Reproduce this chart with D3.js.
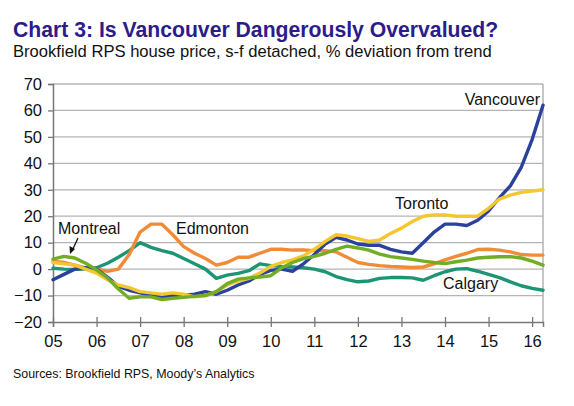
<!DOCTYPE html>
<html><head><meta charset="utf-8">
<script src="https://cdn.jsdelivr.net/npm/d3@7"></script>
<style>
html,body{margin:0;padding:0;background:#fff;}
svg{display:block;font-family:"Liberation Sans",Arial,sans-serif;}
</style></head>
<body>
<svg id="c" width="574" height="406"></svg>
<script>
// quarterly points, 2005Q1 .. 2016Q2 (plotted at quarter starts)
const startYear = 2005, step = 0.25;
const vancouver = [-4,-2,0,0.5,0,-3,-6.5,-8,-9,-10,-10.5,-10,-10,-9.5,-8.5,-9.5,-8,-6,-4.5,-2,-0.5,0,-0.8,2,5.5,9.5,12,11,9.5,9,9,7.5,6.5,6,10,14,17,17,16.5,18.5,22,27,31.5,38.5,49,62];
const toronto = [2.5,2,1.5,0,-1.5,-4,-6,-7,-8.5,-9,-9.5,-9,-9.5,-10.5,-10,-8.5,-6,-4.5,-3.5,-1.5,1,2.5,3.5,5,7.5,10.5,13,12.5,11.5,10.5,11,13.5,15.5,18,20,20.5,20.5,20,20,20,23,26.5,28,29,29.5,30];
const edmonton = [3,2.5,1.5,0.5,0,-0.8,0,5.5,14,17,17,13,8.5,6,4,1.5,2.5,4.5,4.5,6,7.5,7.5,7.2,7.2,7,7,6.5,4.5,2.5,1.8,1.3,1,0.8,0.6,0.8,2,3.5,4.8,6,7.4,7.5,7.2,6.5,5.5,5.3,5.3];
const calgary = [0.3,0,-0.1,0,0.5,2.2,4.5,7,10,8.2,7,6,4,2,0,-3.5,-2.3,-1.6,-0.6,2,1.3,1,0.8,0.5,0,-1,-2.8,-4,-4.8,-4.5,-3.5,-3.2,-3.2,-3.3,-4.2,-2.5,-1,0,0.2,-0.8,-2,-3.2,-4.8,-6.3,-7.3,-8];
const montreal = [3.8,4.8,4.2,2.2,-0.3,-3.3,-7.5,-11,-10.5,-10.5,-11.5,-11,-10.7,-10.3,-10,-8.5,-5.5,-3.8,-3.3,-3,-2.5,0.5,2.5,4,4.8,6,7.5,8.7,8,7.2,5.7,4.7,4.2,3.7,3,2.5,2.1,2.8,3.4,4.2,4.5,4.7,4.7,4.2,3,1.5];
const yTicks = [-20,-10,0,10,20,30,40,50,60,70];
const xTickYears = [2005,2006,2007,2008,2009,2010,2011,2012,2013,2014,2015,2016];
const xTickLabels = ["05","06","07","08","09","10","11","12","13","14","15","16"];
const title = "Chart 3: Is Vancouver Dangerously Overvalued?";
const subtitle = "Brookfield RPS house price, s-f detached, % deviation from trend";
const source = "Sources: Brookfield RPS, Moody\u2019s Analytics";

const series = [
  {name:"Calgary", values:calgary, color:"#1d9474"},
  {name:"Edmonton", values:edmonton, color:"#f08c38"},
  {name:"Vancouver", values:vancouver, color:"#2b429c"},
  {name:"Toronto", values:toronto, color:"#f4c72e"},
  {name:"Montreal", values:montreal, color:"#72ad26"}
];

const svg = d3.select("#c");
const L = 53, R = 543, T = 84, B = 322;
const x = d3.scaleLinear().domain([2005, 2016.25]).range([L, R]);
const y = d3.scaleLinear().domain([-20, 70]).range([B, T]);

// titles
svg.append("text").attr("x",13).attr("y",37).attr("fill","#2c1b8a")
  .attr("font-weight","bold").attr("font-size",21.2).text(title);
svg.append("text").attr("x",13).attr("y",57).attr("fill","#111")
  .attr("font-size",16.6).text(subtitle);
svg.append("text").attr("x",13).attr("y",378).attr("fill","#111")
  .attr("font-size",12.4).text(source);

// gridlines
svg.append("g").selectAll("line").data(yTicks.filter(d=>d>-20)).join("line")
  .attr("x1",L).attr("x2",R).attr("y1",d=>y(d)).attr("y2",d=>y(d))
  .attr("stroke","#b4b4b4").attr("stroke-width",1.3);
// right border
svg.append("line").attr("x1",R).attr("x2",R).attr("y1",T).attr("y2",B)
  .attr("stroke","#a8a8a8").attr("stroke-width",1.3);

// y axis
const yAxis = d3.axisLeft(y).tickValues(yTicks).tickSize(5).tickPadding(6).tickFormat(d3.format("d"));
const gy = svg.append("g").attr("transform",`translate(${L},0)`).call(yAxis);
gy.select(".domain").attr("stroke","#777").attr("stroke-width",1.5);
gy.selectAll(".tick line").attr("stroke","#777").attr("stroke-width",1.3);
gy.selectAll(".tick text").attr("font-size",16.5).attr("fill","#111")
  .attr("font-family","Liberation Sans, Arial, sans-serif");

// x axis
const xAxis = d3.axisBottom(x).tickValues(xTickYears).tickSize(5).tickPadding(8)
  .tickFormat((d,i)=>xTickLabels[i]);
const gx = svg.append("g").attr("transform",`translate(0,${B})`).call(xAxis);
gx.select(".domain").attr("stroke","#777").attr("stroke-width",1.5);
gx.selectAll(".tick line").attr("stroke","#777").attr("stroke-width",1.3).attr("y1",-5);
gx.selectAll(".tick text").attr("font-size",16.5).attr("fill","#111")
  .attr("font-family","Liberation Sans, Arial, sans-serif");

// lines
const line = d3.line().x((d,i)=>x(startYear + i*step)).y(d=>y(d)).curve(d3.curveLinear);
svg.append("g").selectAll("path").data(series).join("path")
  .attr("d",d=>line(d.values)).attr("fill","none")
  .attr("stroke",d=>d.color).attr("stroke-width",3.4)
  .attr("stroke-linejoin","round").attr("stroke-linecap","round");

// labels
const lab = (t,xx,yy,anchor)=>svg.append("text").attr("x",xx).attr("y",yy)
  .attr("font-size",16).attr("fill","#111").attr("text-anchor",anchor||"start").text(t);
lab("Vancouver",540,105,"end");
lab("Toronto",395,209);
lab("Calgary",443,289);
lab("Edmonton",176,234);
lab("Montreal",58,234);

// arrow for Montreal
svg.append("line").attr("x1",78).attr("y1",238).attr("x2",72).attr("y2",251)
  .attr("stroke","#111").attr("stroke-width",1.3);
svg.append("path").attr("d","M70,254 L69.5,246 L75,249 Z").attr("fill","#111");
</script>
</body></html>
